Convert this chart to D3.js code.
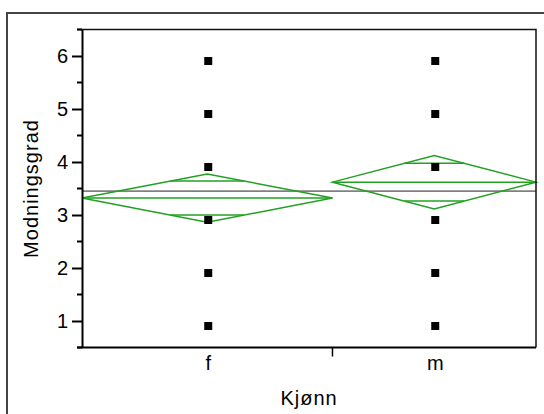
<!DOCTYPE html>
<html>
<head>
<meta charset="utf-8">
<script src="https://cdn.jsdelivr.net/npm/d3@7"></script>
<style>
  body { margin: 0; background: #fff; }
  svg { display: block; }
  text { font-family: "Liberation Sans", Arial, sans-serif; fill: #000; }
</style>
</head>
<body>
<div class="chart"></div>
<script>
var svgWidth = 544;
var svgHeight = 414;

// groups and their sizes (x width is proportional to n)
var groups = ["f", "m"];
var groupN = [16, 13];
var groupMeans = [3.32, 3.62];
var groupCI = [0.455, 0.504];   // half width of 95% diamond
var grandMean = 3.45;
// observed levels (one marker per distinct value)
var pointsF = [6, 5, 4, 3, 2, 1];
var pointsM = [6, 5, 4, 3, 2, 1];
var yTicks = [1, 2, 3, 4, 5, 6];

var margin = { top: 29.5, right: 8, bottom: 66.5, left: 82 };
var width = svgWidth - margin.left - margin.right;
var height = svgHeight - margin.top - margin.bottom;
var fontSize = "20px";
var spacing = "1px";

var svg = d3.select(".chart")
  .append("svg")
  .attr("width", svgWidth)
  .attr("height", svgHeight);

// outer frame
svg.append("rect")
  .attr("x", 7).attr("y", 13)
  .attr("width", 560).attr("height", 420)
  .attr("fill", "none")
  .attr("stroke", "#444")
  .attr("stroke-width", 2);

var chartGroup = svg.append("g")
  .attr("transform", `translate(${margin.left}, ${margin.top})`);

var total = d3.sum(groupN);
var xScale = d3.scaleLinear().domain([0, total]).range([0, width]);
var yScale = d3.scaleLinear().domain([0.5, 6.5]).range([height, 0]);

var starts = [0, groupN[0]];
var green = "#22a022";

// grand mean line
chartGroup.append("line")
  .attr("x1", 0).attr("x2", width)
  .attr("y1", yScale(grandMean)).attr("y2", yScale(grandMean))
  .attr("stroke", "#808080")
  .attr("stroke-width", 1.6);

// means diamonds
groups.forEach(function(g, i) {
  var x0 = xScale(starts[i]);
  var x1 = xScale(starts[i] + groupN[i]);
  var xc = (x0 + x1) / 2;
  var m = groupMeans[i], ci = groupCI[i];
  var dg = chartGroup.append("g")
    .attr("fill", "none")
    .attr("stroke", green)
    .attr("stroke-width", 1.5);

  dg.append("path")
    .attr("d", `M${x0},${yScale(m)}L${xc},${yScale(m + ci)}L${x1},${yScale(m)}L${xc},${yScale(m - ci)}Z`);

  dg.append("line")
    .attr("x1", x0).attr("x2", x1)
    .attr("y1", yScale(m)).attr("y2", yScale(m));

  // overlap marks at mean +/- ci/sqrt(2)
  var f = 1 / Math.SQRT2;
  var half = (x1 - x0) / 2 * (1 - f);
  [1, -1].forEach(function(s) {
    var yy = yScale(m + s * ci * f);
    dg.append("line")
      .attr("x1", xc - half).attr("x2", xc + half)
      .attr("y1", yy).attr("y2", yy);
  });
});

// points
[pointsF, pointsM].forEach(function(pts, i) {
  var xc = xScale(starts[i] + groupN[i] / 2);
  chartGroup.selectAll("rect.pt" + i)
    .data(pts)
    .enter()
    .append("rect")
    .attr("class", "pt" + i)
    .attr("x", xc - 3)
    .attr("y", d => yScale(d) + 1)
    .attr("width", 8)
    .attr("height", 8)
    .attr("fill", "#000");
});

// frame top/right
chartGroup.append("path")
  .attr("d", `M-5,0H${width}V${height}`)
  .attr("fill", "none")
  .attr("stroke", "#111")
  .attr("stroke-width", 1.5);

// y axis
var leftAxis = d3.axisLeft(yScale)
  .tickValues(yTicks)
  .tickFormat(d3.format("d"))
  .tickSize(10).tickPadding(4).tickSizeOuter(0);
var yAxisG = chartGroup.append("g").call(leftAxis);
yAxisG.select(".domain").attr("stroke-width", 2);
yAxisG.selectAll(".tick line").attr("stroke-width", 2);
yAxisG.selectAll("text")
  .style("font-size", fontSize)
  .style("font-family", '"Liberation Sans", Arial, sans-serif')
  .attr("fill", "#000");

// minor ticks
chartGroup.selectAll("line.minor")
  .data(d3.range(0.5, 6.51, 1))
  .enter()
  .append("line")
  .attr("class", "minor")
  .attr("x1", -5).attr("x2", 0)
  .attr("y1", d => yScale(d)).attr("y2", d => yScale(d))
  .attr("stroke", "#000")
  .attr("stroke-width", 2);

// x axis
chartGroup.append("line")
  .attr("x1", -5).attr("x2", width)
  .attr("y1", height).attr("y2", height)
  .attr("stroke", "#000")
  .attr("stroke-width", 2);

chartGroup.append("line")
  .attr("x1", xScale(starts[1])).attr("x2", xScale(starts[1]))
  .attr("y1", height).attr("y2", height + 9)
  .attr("stroke", "#000")
  .attr("stroke-width", 1.5);

chartGroup.selectAll("text.xlab")
  .data(groups)
  .enter()
  .append("text")
  .attr("class", "xlab")
  .attr("x", (d, i) => xScale(starts[i] + groupN[i] / 2) + 1)
  .attr("y", height + 22)
  .attr("text-anchor", "middle")
  .style("font-size", fontSize)
  .text(d => d);

// axis titles
svg.append("text")
  .attr("x", margin.left + width / 2)
  .attr("y", 405)
  .attr("text-anchor", "middle")
  .style("font-size", fontSize)
  .style("letter-spacing", spacing)
  .text("Kjønn");

svg.append("text")
  .attr("transform", `translate(38, ${margin.top + height / 2}) rotate(-90)`)
  .attr("text-anchor", "middle")
  .style("font-size", fontSize)
  .style("letter-spacing", spacing)
  .text("Modningsgrad");
</script>
</body>
</html>
